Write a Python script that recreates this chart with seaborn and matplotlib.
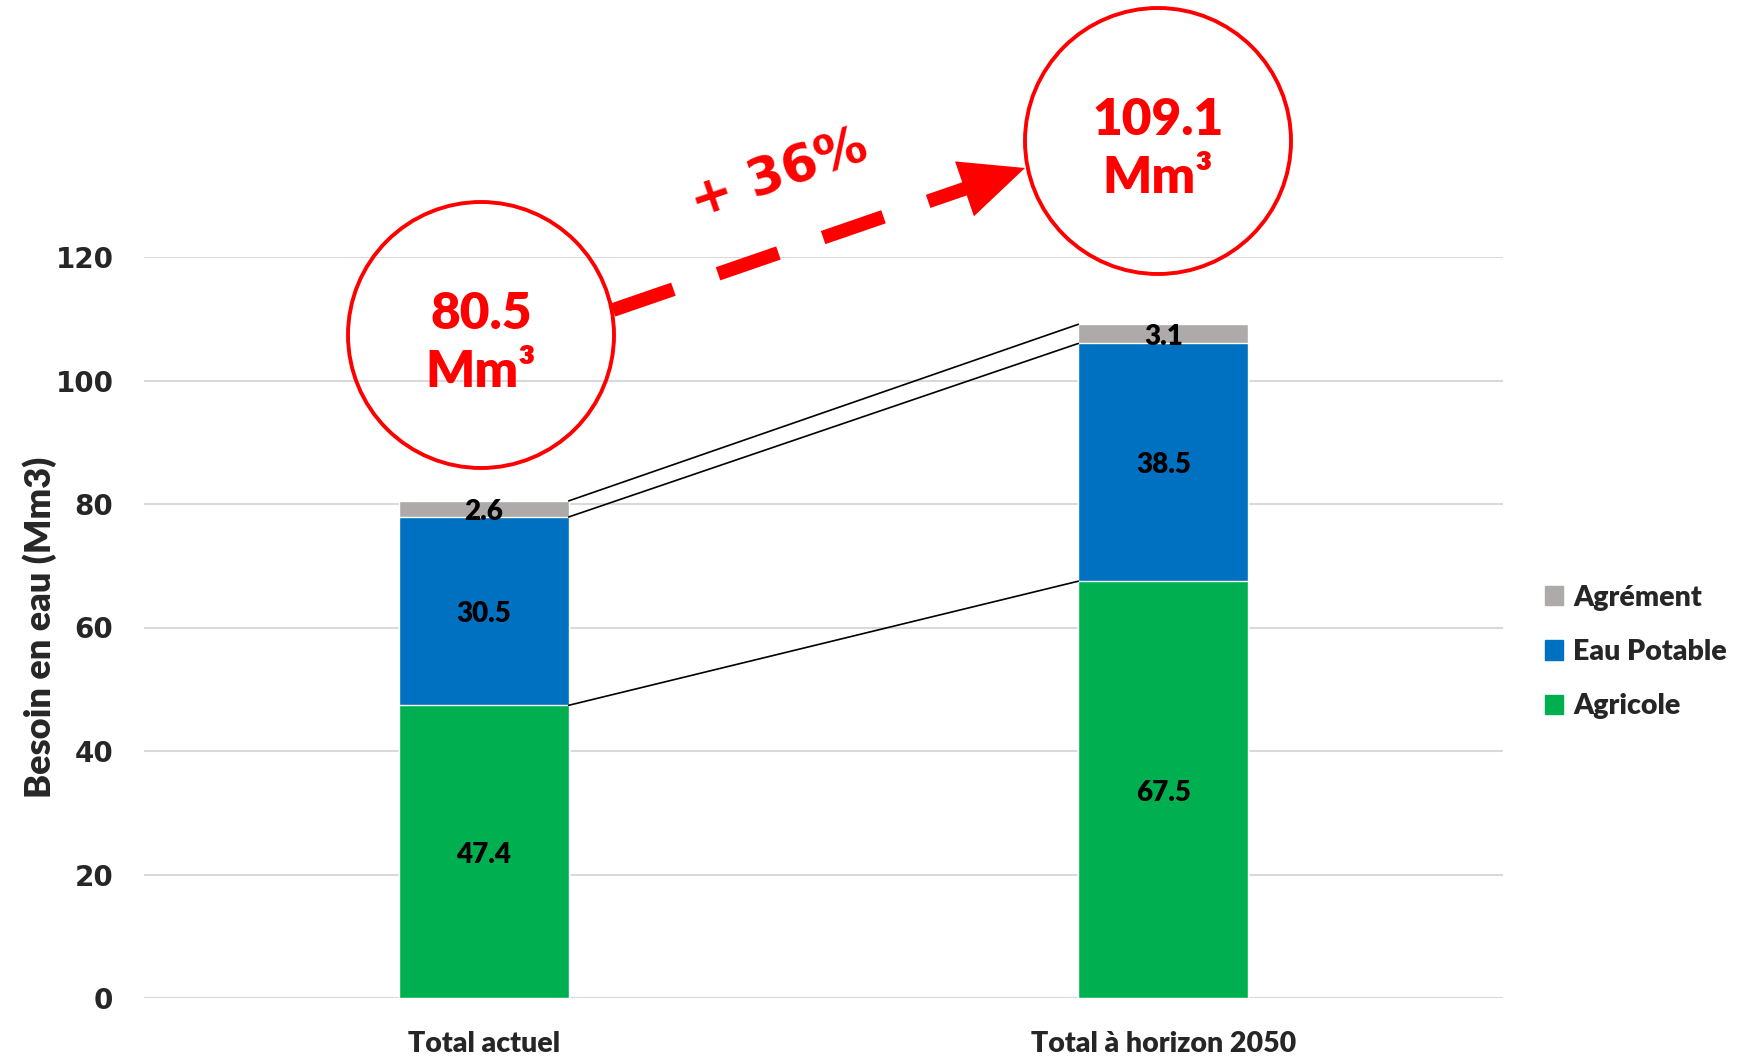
import matplotlib
matplotlib.use("Agg")
import matplotlib.pyplot as plt
import matplotlib.patches as mpatches
from matplotlib.lines import Line2D
import seaborn as sns

# %% data
categories = ["Total actuel", "Total à horizon 2050"]
agricole = [47.4, 67.5]
eau_potable = [30.5, 38.5]
agrement = [2.6, 3.1]
series_names = ["Agrément", "Eau Potable", "Agricole"]
y_ticks = [0, 20, 40, 60, 80, 100, 120]
increase_label = "+ 36%"

colors = {"Agricole": "#00B050", "Eau Potable": "#0070C0", "Agrément": "#AEAAAA"}

# %% style
sns.set_theme(style="white")
plt.rcParams["font.family"] = ["Lato", "DejaVu Sans"]
HEAVY = "heavy"

W, H = 1738, 1056
fig = plt.figure(figsize=(W / 100, H / 100), dpi=100)
ax = fig.add_axes([144 / W, 1 - 998 / H, (1503 - 144) / W, (998 - 257) / H])

# cumulative levels
lvl1 = agricole
lvl2 = [a + b for a, b in zip(agricole, eau_potable)]
lvl3 = [a + b + c for a, b, c in zip(agricole, eau_potable, agrement)]

bw = 0.25
for vals, name in [(lvl3, "Agrément"), (lvl2, "Eau Potable"), (lvl1, "Agricole")]:
    sns.barplot(x=categories, y=vals, color=colors[name], width=bw,
                saturation=1, ax=ax, zorder=3)

# segment labels
for i in range(len(categories)):
    bottoms = [0, lvl1[i], lvl2[i]]
    heights = [agricole[i], eau_potable[i], agrement[i]]
    for b, h in zip(bottoms, heights):
        ax.text(i, b + h / 2 - 0.5, f"{h:.1f}", ha="center", va="center",
                fontsize=20, fontweight=HEAVY, color="black", zorder=5)

# connector lines between bars
for lv in [lvl1, lvl2, lvl3]:
    ax.plot([bw / 2, 1 - bw / 2], [lv[0], lv[1]], color="black", lw=1.2, zorder=4)

ax.set_xlim(-0.5, 1.5)
ax.set_ylim(0, 120)
ax.set_yticks(y_ticks)
ax.yaxis.grid(True, color="#D9D9D9", lw=1.5, zorder=0)
ax.set_axisbelow(True)
for s in ax.spines.values():
    s.set_visible(False)
ax.tick_params(axis="both", length=0)
ax.tick_params(axis="y", pad=22)
ax.tick_params(axis="x", pad=24)
for lab in ax.get_yticklabels():
    lab.set_fontfamily("DejaVu Sans")
    lab.set_fontweight("bold")
    lab.set_fontsize(20)
for lab in ax.get_xticklabels():
    lab.set_fontweight(HEAVY)
    lab.set_fontsize(20.5)
ax.set_ylabel("Besoin en eau (Mm3)", fontsize=26, fontweight=HEAVY, labelpad=-1)

# legend
handles = [mpatches.Patch(color=colors[n]) for n in series_names]
fig.legend(handles, series_names, loc="center left",
           bbox_to_anchor=(1519 / W, 1 - 652 / H), frameon=False,
           prop={"family": "Lato", "weight": HEAVY, "size": 20.5},
           handlelength=0.65, handleheight=0.65, handletextpad=0.35,
           labelspacing=1.0)

# circles with totals (figure pixel coords)
def fx(px):
    return px / W

def fy(py):
    return 1 - py / H

totals_txt = [f"{t:.1f}" for t in lvl3]
centers = [(481, 335), (1158, 141)]
r = 133
for (cx, cy), t in zip(centers, totals_txt):
    circ = mpatches.Ellipse((fx(cx), fy(cy)), 2 * r / W, 2 * r / H,
                            transform=fig.transFigure, fill=False,
                            edgecolor="#FF0000", lw=2.8)
    fig.add_artist(circ)
    fig.text(fx(cx), fy(cy - 21), t, ha="center", va="center", color="#FF0000",
             fontsize=37, fontweight=HEAVY)
    fig.text(fx(cx), fy(cy + 37), "Mm³", ha="center", va="center", color="#FF0000",
             fontsize=37, fontweight=HEAVY)

# dashed arrow
x0, y0 = 613, 310
x1, y1 = 1025, 168
dx, dy = x1 - x0, y1 - y0
L = (dx ** 2 + dy ** 2) ** 0.5
ux, uy = dx / L, dy / L
hl, hw = 64, 58
bx, by = x1 - ux * hl, y1 - uy * hl
line = Line2D([fx(x0), fx(bx + ux * 4)], [fy(y0), fy(by + uy * 4)],
              transform=fig.transFigure, color="#FF0000", lw=10,
              dashes=(4.6, 3.4), solid_capstyle="butt", dash_capstyle="butt")
fig.add_artist(line)
px, py = -uy, ux
head = mpatches.Polygon([(fx(x1), fy(y1)),
                         (fx(bx + px * hw / 2), fy(by + py * hw / 2)),
                         (fx(bx - px * hw / 2), fy(by - py * hw / 2))],
                        closed=True, transform=fig.transFigure,
                        facecolor="#FF0000", edgecolor="none")
fig.add_artist(head)
fig.text(fx(779), fy(175), increase_label, ha="center", va="center",
         rotation=19, color="#FF0000", fontsize=37, fontweight="bold",
         family="DejaVu Sans")

fig.savefig("out.png", dpi=100)
